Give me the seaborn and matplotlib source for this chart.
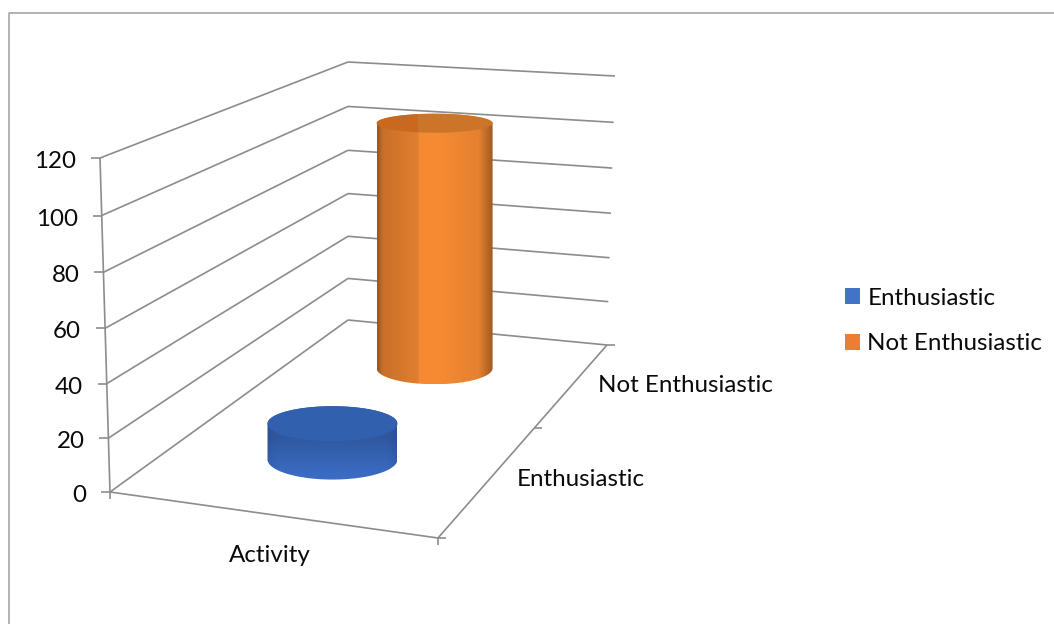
import numpy as np
import matplotlib
matplotlib.use("Agg")
import matplotlib.pyplot as plt
from matplotlib.patches import Patch, PathPatch
from matplotlib.path import Path
import seaborn as sns

# ---- data ----
series_names = ["Enthusiastic", "Not Enthusiastic"]
series_values = [14, 106]
category_labels = ["Activity"]
value_ticks = [0, 20, 40, 60, 80, 100, 120]
VMAX = 120

sns.set_theme(style="white")
plt.rcParams["font.family"] = ["Lato", "DejaVu Sans"]
palette = sns.color_palette(["#4472C4", "#ED7D31"])

W, H = 1054, 624
fig = plt.figure(figsize=(W / 100, H / 100), dpi=100)
ax = fig.add_axes([0, 0, 1, 1])
ax.set_xlim(0, W)
ax.set_ylim(H, 0)
ax.axis("off")

# ---- projection of the 3-D box onto the page ----
FL0, FL1 = np.array([110., 492.]), np.array([100., 158.])
FR0, FR1 = np.array([438., 538.]), np.array([428., 190.])
BL0, BL1 = np.array([348., 320.]), np.array([348., 62.])
BR0, BR1 = np.array([607., 345.]), np.array([615., 76.])


def warp(d):
    return d + 0.28 * d * (1 - d)


def project(x, d, v):
    t = v / VMAX
    t = t - 0.04 * t * (1 - t)
    fl, fr = FL0 + (FL1 - FL0) * t, FR0 + (FR1 - FR0) * t
    bl, br = BL0 + (BL1 - BL0) * t, BR0 + (BR1 - BR0) * t
    front = fl + (fr - fl) * x
    back = bl + (br - bl) * x
    return front + (back - front) * warp(d)


LINE = "#8C8C8C"
TEXT = "#0A0A0A"
fs = 17.4
line_kw = dict(color=LINE, lw=1.2, solid_capstyle="butt", zorder=1)


def seg(a, b, **kw):
    ax.plot([a[0], b[0]], [a[1], b[1]], **{**line_kw, **kw})


# chart frame
ax.plot([W + 2, 9, 9], [13, 13, H + 2], color="#A6A6A6", lw=1.2, zorder=0, clip_on=False)

# walls and gridlines
for v in value_ticks:
    seg(project(0, 0, v), project(0, 1, v))
    seg(project(0, 1, v), project(1, 1, v))
    p = project(0, 0, v)
    seg(p - np.array([9, 0]), p)
    ax.text(p[0] - 24, p[1] + 3.5, str(v), ha="right", va="center", fontsize=fs, color=TEXT)

seg(project(0, 0, 0), project(0, 0, VMAX))
seg(project(0, 0, 0), project(1, 0, 0))
seg(project(1, 0, 0), project(1, 1, 0))

# floor ticks
for x in [0, 1]:
    p = project(x, 0, 0)
    seg(p, p + np.array([0, 7]))
for d in [0, 0.5, 1]:
    p = project(1, d, 0)
    seg(p, p + np.array([8, 0]))


# ---- cylinders ----
def shade_orange(u, w):
    base = np.array([0xF5, 0x8A, 0x33]) / 255
    k = np.where(u < 0.36, 0.80 + 0.12 * u / 0.36, 1.0 - 0.09 * np.clip((u - 0.55) / 0.45, 0, 1))
    k = k - 0.26 * np.clip((u - 0.88) / 0.12, 0, 1) - 0.18 * np.clip((0.05 - u) / 0.05, 0, 1)
    return k[..., None] * base


def shade_blue(u, w):
    base = np.array([0x3C, 0x6E, 0xC8]) / 255
    k = 0.80 + 0.20 * np.clip((w - 0.42) / 0.58, 0, 1)
    k = k - 0.06 * np.clip((0.08 - u) / 0.08, 0, 1) - 0.06 * np.clip((u - 0.92) / 0.08, 0, 1)
    return k[..., None] * base


def semi_minor(y):
    return 9.5 + (y - 123) * 0.0265 + max(0, y - 430) * 0.06


def ellipse(cx, cy, a, b, t0=0, t1=2 * np.pi, n=90):
    t = np.linspace(t0, t1, n)
    return np.c_[cx + a * np.cos(t), cy + b * np.sin(t)]


def cylinder(d, value, halfw, shade, top_colors, z):
    base = project(0.49, d, 0)
    top = project(0.49, d, value)
    cx = base[0]
    bb, bt = semi_minor(base[1]), semi_minor(top[1])
    lower = ellipse(cx, base[1], halfw, bb, 0, np.pi)
    upper = ellipse(cx, top[1], halfw, bt, np.pi, 2 * np.pi)
    body = np.r_[lower, upper, lower[:1]]
    clip = PathPatch(Path(body), transform=ax.transData, fc="none", ec="none")
    ax.add_patch(clip)
    y0, y1 = top[1] - bt, base[1] + bb
    uu, ww = np.meshgrid(np.linspace(0, 1, 200), np.linspace(0, 1, 200))
    im = ax.imshow(shade(uu, ww), extent=(cx - halfw, cx + halfw, y1, y0),
                   aspect="auto", zorder=z, interpolation="bilinear")
    im.set_clip_path(clip)
    # top face, in two tones split at the same seam as the body
    face = ellipse(cx, top[1], halfw, bt)
    seam = cx - halfw + 0.36 * 2 * halfw
    tp = Path(face)
    for col, x0, x1 in [(top_colors[0], cx - halfw - 1, seam), (top_colors[1], seam, cx + halfw + 1)]:
        r = ax.fill_between([x0, x1], y0 - 1, top[1] + bt + 1, color=col, lw=0, zorder=z + 1)
        r.set_clip_path(PathPatch(tp, transform=ax.transData))
    ax.set_xlim(0, W)
    ax.set_ylim(H, 0)


depths = [0.25, 0.75]
cylinder(depths[1], series_values[1], 58, shade_orange, ("#C8691F", "#CB752B"), 3)
cylinder(depths[0], series_values[0], 65, shade_blue, ("#3060AE", "#3060AE"), 5)

# ---- category labels ----
ax.text(270, 555, category_labels[0], ha="center", va="center", fontsize=fs, color=TEXT)
ax.text(598, 386, series_names[1], ha="left", va="center", fontsize=fs, color=TEXT)
ax.text(517, 480, series_names[0], ha="left", va="center", fontsize=fs, color=TEXT)

# ---- legend ----
handles = [Patch(facecolor=c, edgecolor="none", label=n) for c, n in zip(palette, series_names)]
ax.legend(handles=handles, loc="center left", bbox_to_anchor=(833, 321), bbox_transform=ax.transData,
          frameon=False, fontsize=fs, handlelength=0.62, handleheight=0.62, handletextpad=0.3,
          labelspacing=1.03, borderpad=0, borderaxespad=0.5, labelcolor=TEXT)

fig.savefig("out.png", dpi=100, facecolor="white")
